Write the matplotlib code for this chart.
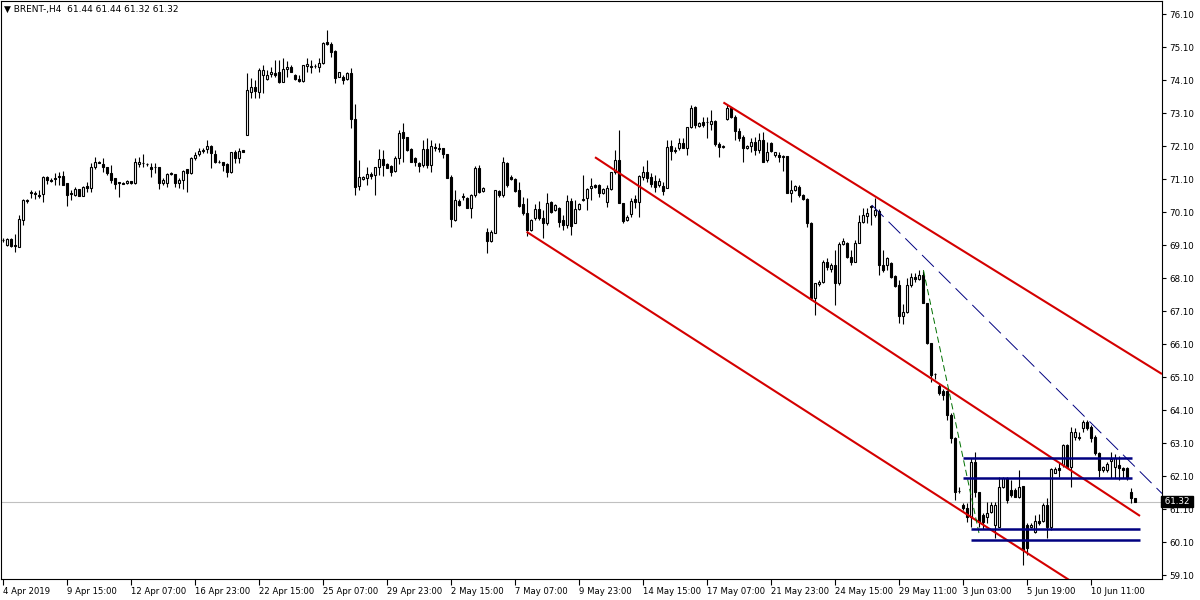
import numpy as np
import matplotlib
matplotlib.use("Agg")
import matplotlib.pyplot as plt

# BRENT H4 candles (one value per bar, 10 bars per row)
opens = [
    69.25, 69.10, 69.29, 69.10, 69.05, 69.86, 70.43, 70.71, 70.68, 70.62,
    70.64, 71.15, 71.07, 71.14, 71.20, 71.20, 70.97, 70.68, 70.61, 70.80,
    70.59, 70.89, 70.82, 71.47, 71.62, 71.55, 71.45, 71.27, 71.12, 71.00,
    70.98, 70.97, 71.05, 70.97, 71.55, 71.58, 71.55, 71.45, 71.46, 71.46,
    70.99, 70.99, 71.27, 71.24, 70.99, 71.07, 71.39, 71.29, 71.73, 71.87,
    71.96, 72.00, 72.10, 71.85, 71.63, 71.61, 71.54, 71.30, 71.93, 71.73,
    71.97, 72.43, 73.75, 73.89, 73.75, 74.25, 74.12, 74.28, 74.30, 74.33,
    74.03, 74.42, 74.48, 74.25, 74.13, 74.08, 74.53, 74.53, 74.53, 74.48,
    74.61, 75.24, 75.18, 74.98, 74.20, 74.20, 74.12, 74.30, 72.91, 70.90,
    71.10, 71.12, 71.25, 71.22, 71.47, 71.71, 71.54, 71.50, 71.34, 71.73,
    72.51, 72.36, 72.00, 71.75, 71.57, 71.52, 72.01, 71.52, 72.08, 72.05,
    72.03, 71.85, 71.17, 69.86, 70.43, 70.57, 70.51, 70.23, 70.61, 71.44,
    70.74, 69.50, 69.22, 69.45, 70.75, 70.61, 71.59, 71.17, 71.09, 70.77,
    70.34, 70.06, 69.55, 69.91, 70.18, 69.91, 69.76, 70.39, 70.16, 70.21,
    69.86, 69.71, 70.43, 69.76, 70.18, 70.45, 70.51, 70.82, 70.92, 70.92,
    70.67, 70.41, 70.80, 71.30, 71.68, 70.36, 69.86, 70.03, 70.49, 70.41,
    71.17, 71.32, 71.17, 71.04, 70.92, 70.90, 70.84, 72.11, 71.98, 72.03,
    72.18, 72.05, 72.67, 73.27, 72.72, 72.84, 72.84, 72.76, 72.86, 72.15,
    72.08, 72.92, 73.26, 72.99, 72.55, 72.38, 72.03, 72.11, 72.23, 71.98,
    72.28, 71.68, 72.18, 71.83, 71.83, 71.78, 71.80, 70.67, 70.77, 70.87,
    70.61, 70.48, 69.77, 67.48, 67.92, 67.99, 68.59, 68.36, 68.49, 67.96,
    69.13, 69.17, 68.75, 68.59, 69.15, 69.81, 69.98, 70.25, 70.01, 70.14,
    68.49, 68.49, 68.54, 68.16, 67.89, 66.95, 67.08, 67.89, 68.14, 68.06,
    68.19, 67.35, 66.12, 65.18, 64.83, 64.68, 64.68, 63.95, 63.24, 61.64,
    61.22, 61.12, 60.87, 62.53, 61.62, 60.92, 60.87, 61.02, 60.61, 60.56,
    61.77, 62.05, 61.68, 61.68, 61.47, 61.80, 60.61, 60.56, 60.41, 60.75,
    60.75, 61.22, 60.56, 62.20, 62.33, 62.43, 63.04, 62.38, 63.29, 63.29,
    63.55, 63.75, 63.59, 63.29, 62.79, 62.28, 62.28, 62.56, 62.38, 62.43,
    62.33, 62.33, 61.62, 61.44,
]
highs = [
    69.31, 69.31, 69.31, 69.43, 70.01, 70.49, 70.49, 70.77, 70.74, 70.77,
    71.19, 71.19, 71.13, 71.27, 71.32, 71.35, 70.98, 70.77, 70.85, 70.80,
    70.89, 71.02, 71.57, 71.76, 71.64, 71.73, 71.46, 71.52, 71.13, 71.02,
    71.02, 71.07, 71.05, 71.73, 71.77, 71.86, 71.59, 71.57, 71.57, 71.46,
    71.13, 71.28, 71.32, 71.25, 71.12, 71.37, 71.40, 71.77, 71.93, 72.05,
    72.05, 72.28, 72.13, 71.98, 71.68, 71.62, 71.57, 71.93, 71.98, 72.03,
    71.99, 74.30, 74.15, 74.10, 74.45, 74.55, 74.40, 74.50, 74.71, 74.71,
    74.76, 74.67, 74.55, 74.28, 74.25, 74.55, 74.76, 74.71, 74.60, 74.76,
    75.26, 75.62, 75.26, 75.01, 74.35, 74.25, 74.35, 74.45, 73.37, 71.68,
    71.20, 71.47, 71.31, 71.47, 72.01, 71.98, 71.58, 71.52, 71.81, 72.58,
    72.79, 72.38, 72.03, 71.78, 71.62, 72.28, 72.35, 72.28, 72.18, 72.18,
    72.05, 71.86, 71.22, 70.77, 70.49, 70.67, 70.56, 70.64, 71.50, 71.52,
    70.87, 69.61, 69.55, 70.77, 70.77, 71.77, 71.62, 71.22, 71.12, 71.02,
    70.56, 70.51, 69.89, 70.33, 70.43, 70.16, 70.67, 70.43, 70.34, 70.26,
    70.01, 70.61, 70.51, 70.46, 70.37, 71.22, 70.82, 71.12, 70.95, 70.95,
    70.82, 70.92, 71.32, 71.98, 72.58, 70.36, 70.01, 70.51, 70.61, 71.22,
    71.50, 71.68, 71.27, 71.22, 71.12, 71.00, 72.28, 72.28, 72.08, 72.33,
    72.33, 72.68, 73.34, 73.32, 72.82, 72.99, 72.99, 73.19, 72.89, 72.23,
    72.13, 73.34, 73.29, 73.04, 72.64, 72.43, 72.13, 72.35, 72.38, 72.48,
    72.53, 72.23, 72.21, 71.93, 71.91, 71.83, 71.80, 71.07, 70.92, 70.92,
    70.65, 70.51, 69.81, 67.94, 68.04, 68.64, 68.70, 68.54, 68.95, 69.20,
    69.30, 69.20, 68.95, 69.25, 70.01, 70.21, 70.21, 70.31, 70.51, 70.18,
    68.95, 68.75, 68.59, 68.19, 68.04, 67.30, 68.09, 68.24, 68.24, 68.34,
    68.32, 67.35, 66.12, 65.23, 64.89, 64.74, 64.71, 64.01, 63.28, 61.77,
    61.28, 61.27, 62.64, 62.84, 61.62, 60.97, 61.32, 61.32, 61.32, 62.08,
    62.08, 62.08, 61.98, 61.73, 62.29, 61.80, 60.67, 60.67, 60.92, 60.95,
    61.27, 61.42, 62.33, 62.38, 62.48, 63.07, 63.07, 63.58, 63.55, 63.44,
    63.80, 63.80, 63.64, 63.34, 62.84, 62.40, 62.53, 62.84, 62.77, 62.70,
    62.38, 62.38, 61.73, 61.44,
]
lows = [
    69.19, 69.07, 69.04, 68.90, 69.05, 69.71, 70.37, 70.52, 70.49, 70.52,
    70.41, 70.95, 71.01, 70.92, 70.92, 70.92, 70.28, 70.46, 70.59, 70.58,
    70.58, 70.71, 70.71, 71.39, 71.57, 71.32, 71.22, 70.97, 70.79, 70.56,
    70.94, 70.95, 70.95, 70.96, 71.47, 71.47, 71.49, 71.17, 71.27, 70.79,
    70.92, 70.87, 71.22, 70.87, 70.82, 70.79, 70.71, 71.24, 71.68, 71.80,
    71.88, 71.88, 71.44, 71.58, 71.59, 71.34, 71.17, 71.27, 71.58, 71.58,
    71.92, 72.43, 73.56, 73.55, 73.55, 73.70, 74.10, 74.20, 74.20, 74.00,
    74.03, 74.20, 74.33, 74.10, 74.03, 74.03, 74.35, 74.30, 74.45, 74.35,
    74.58, 75.16, 74.81, 74.00, 74.18, 73.97, 74.10, 72.64, 70.61, 70.77,
    71.07, 70.92, 71.11, 70.61, 71.22, 71.20, 71.42, 71.20, 71.30, 71.55,
    71.62, 71.95, 71.61, 71.50, 71.32, 71.47, 71.44, 71.30, 71.95, 71.93,
    71.73, 71.12, 69.65, 69.83, 70.29, 70.46, 70.21, 69.93, 70.56, 70.67,
    70.72, 68.85, 69.20, 69.45, 70.56, 70.56, 70.87, 71.07, 70.72, 70.26,
    70.01, 69.38, 69.52, 69.86, 69.86, 69.30, 69.71, 70.06, 70.13, 69.65,
    69.55, 69.61, 69.40, 69.76, 70.16, 70.43, 70.16, 70.46, 70.83, 70.56,
    70.64, 70.26, 70.77, 71.24, 70.36, 69.76, 69.83, 69.96, 70.23, 69.96,
    71.07, 71.02, 70.87, 70.71, 70.87, 70.61, 70.82, 71.68, 71.88, 71.98,
    72.03, 71.83, 72.64, 72.64, 72.68, 72.68, 72.33, 72.58, 72.11, 71.77,
    72.03, 72.89, 72.96, 72.28, 72.25, 71.62, 72.01, 71.93, 71.83, 71.88,
    71.62, 71.62, 71.93, 71.77, 71.62, 71.34, 70.67, 70.41, 70.74, 70.56,
    70.46, 69.65, 67.43, 66.98, 67.86, 67.94, 68.34, 68.29, 67.28, 67.89,
    69.10, 68.70, 68.49, 68.59, 69.15, 69.77, 69.76, 69.71, 69.96, 68.19,
    68.29, 68.34, 68.09, 67.84, 66.73, 66.70, 67.03, 67.84, 67.99, 68.04,
    67.33, 66.10, 64.96, 65.03, 64.55, 64.40, 63.80, 63.10, 61.37, 61.57,
    61.07, 60.71, 60.56, 61.47, 60.56, 60.48, 60.67, 60.97, 60.21, 60.56,
    61.73, 61.27, 61.47, 61.47, 61.42, 59.41, 59.71, 60.52, 60.36, 60.61,
    60.71, 60.21, 60.46, 62.18, 62.08, 62.38, 62.36, 61.77, 63.18, 63.18,
    63.44, 63.49, 63.13, 62.73, 62.08, 62.23, 62.23, 62.03, 62.03, 61.98,
    62.03, 61.98, 61.27, 61.32,
]
closes = [
    69.24, 69.29, 69.07, 69.07, 69.88, 70.46, 70.45, 70.69, 70.66, 70.60,
    71.15, 71.07, 71.05, 71.10, 71.15, 70.92, 70.61, 70.66, 70.80, 70.59,
    70.87, 70.82, 71.47, 71.61, 71.58, 71.45, 71.27, 71.07, 70.94, 70.98,
    70.96, 71.05, 70.98, 71.61, 71.61, 71.57, 71.54, 71.41, 71.45, 70.99,
    71.07, 71.25, 71.26, 70.99, 71.07, 71.35, 71.29, 71.73, 71.83, 71.95,
    71.98, 72.10, 71.88, 71.61, 71.62, 71.52, 71.30, 71.91, 71.73, 71.95,
    71.93, 73.80, 73.89, 73.77, 74.40, 74.40, 74.25, 74.33, 74.25, 74.03,
    74.43, 74.48, 74.35, 74.12, 74.08, 74.55, 74.58, 74.49, 74.53, 74.61,
    75.21, 75.19, 74.96, 74.17, 74.33, 74.10, 74.30, 72.91, 70.87, 71.15,
    71.17, 71.25, 71.20, 71.47, 71.71, 71.52, 71.44, 71.32, 71.75, 72.48,
    72.33, 71.98, 71.62, 71.62, 71.50, 72.01, 71.52, 72.10, 72.05, 72.01,
    71.85, 71.12, 69.89, 70.46, 70.31, 70.56, 70.23, 70.61, 71.44, 70.70,
    70.84, 69.22, 69.50, 70.77, 70.61, 71.61, 70.92, 71.10, 70.74, 70.29,
    70.06, 69.55, 69.86, 70.18, 69.91, 69.76, 70.36, 70.11, 70.31, 69.81,
    69.71, 70.43, 69.68, 70.19, 70.33, 70.48, 70.80, 70.90, 70.87, 70.67,
    70.80, 70.82, 71.30, 71.68, 70.36, 69.83, 69.96, 70.43, 70.41, 71.19,
    71.30, 71.14, 70.94, 70.87, 71.04, 70.74, 72.08, 71.95, 71.96, 72.18,
    72.05, 72.67, 73.24, 72.74, 72.79, 72.74, 72.83, 72.86, 72.15, 72.06,
    72.09, 73.24, 72.99, 72.55, 72.35, 72.05, 72.11, 72.23, 71.98, 72.28,
    71.62, 71.93, 71.95, 71.91, 71.77, 71.79, 70.67, 70.77, 70.89, 70.61,
    70.48, 69.76, 67.48, 67.94, 67.99, 68.59, 68.42, 68.49, 67.96, 69.13,
    69.23, 68.73, 68.59, 69.15, 69.81, 70.01, 70.06, 70.28, 70.16, 68.49,
    68.34, 68.70, 68.14, 67.86, 66.95, 67.08, 67.89, 68.14, 68.06, 68.19,
    67.35, 66.12, 65.16, 65.19, 64.61, 64.55, 63.95, 63.24, 61.62, 61.66,
    61.12, 60.87, 62.53, 61.62, 60.71, 60.71, 60.99, 61.22, 61.22, 61.77,
    62.05, 61.37, 61.52, 61.47, 61.77, 59.86, 59.91, 60.61, 60.75, 60.67,
    61.22, 60.56, 62.30, 62.30, 62.28, 63.04, 62.38, 63.44, 63.44, 63.24,
    63.75, 63.55, 63.24, 62.79, 62.28, 62.36, 62.46, 62.61, 62.64, 62.33,
    62.28, 62.03, 61.42, 61.32,
]

date_labels = ["4 Apr 2019", "9 Apr 15:00", "12 Apr 07:00", "16 Apr 23:00",
               "22 Apr 15:00", "25 Apr 07:00", "29 Apr 23:00", "2 May 15:00",
               "7 May 07:00", "9 May 23:00", "14 May 15:00", "17 May 07:00",
               "21 May 23:00", "24 May 15:00", "29 May 11:00", "3 Jun 03:00",
               "5 Jun 19:00", "10 Jun 11:00"]
bars_per_label = 16
price_ticks = [59.10, 60.10, 61.10, 62.10, 63.10, 64.10, 65.10, 66.10, 67.10,
               68.10, 69.10, 70.10, 71.10, 72.10, 73.10, 74.10, 75.10, 76.10]
last_price = 61.32

# drawn objects: (bar, price) anchors
red_channel = [(180.1, 73.42, 289.75, 65.19),
               (148.0, 71.76, 284.25, 60.89),
               (130.9, 69.50, 270.0, 58.68)]
blue_trend = (217.2, 70.31, 289.75, 61.57)
green_trend = (230.1, 68.34, 244.1, 60.31)
levels = [62.65, 62.05, 60.49, 60.16]
level_from = [240.0, 240.0, 242.1, 242.1]
level_to = [282.25, 282.25, 284.25, 284.25]

o = np.array(opens)
c = np.array(closes)
h = np.maximum(np.array(highs), np.maximum(o, c))
l = np.minimum(np.array(lows), np.minimum(o, c))
x = np.arange(len(o))

plt.rcParams['lines.scale_dashes'] = False
fig = plt.figure(figsize=(12, 6), dpi=100)
ax = fig.add_axes([1 / 1200, 21 / 600, 1161 / 1200, 578 / 600])
ax.set_xlim(-0.5, 289.75)
ax.set_ylim(58.979, 76.494)

ax.axhline(last_price, color='#c0c0c0', lw=0.8, zorder=1)

# candles
ax.vlines(x, l, h, color='black', lw=0.8, zorder=2)
up = c > o
dn = c < o
fl = c == o
ax.bar(x[up], (c - o)[up], bottom=o[up], width=0.5, facecolor='white',
       edgecolor='black', linewidth=0.8, zorder=3)
ax.bar(x[dn], (c - o)[dn], bottom=o[dn], width=0.5, facecolor='black',
       edgecolor='black', linewidth=0.8, zorder=3)
ax.hlines(o[fl], x[fl] - 0.35, x[fl] + 0.35, color='black', lw=0.8, zorder=3)

# objects
for x0, y0, x1, y1 in red_channel:
    ax.plot([x0, x1], [y0, y1], color='#d40000', lw=1.5, zorder=4,
            solid_capstyle='butt')
ax.plot(blue_trend[::2], blue_trend[1::2], color='#000080', lw=0.7,
        dashes=(12, 5), zorder=4)
ax.plot(green_trend[::2], green_trend[1::2], color='#007000', lw=0.7,
        dashes=(4.5, 2.5), zorder=4)
for lv, a, b in zip(levels, level_from, level_to):
    ax.plot([a, b], [lv, lv], color='#000080', lw=1.8, zorder=4,
            solid_capstyle='butt')

# axes
for s in ax.spines.values():
    s.set_color('black')
    s.set_linewidth(0.8)
ax.yaxis.tick_right()
ax.set_yticks(price_ticks)
ax.set_yticklabels(['%.2f' % p for p in price_ticks])
ax.tick_params(axis='y', direction='out', length=3, width=0.8, pad=2,
               labelsize=6.3, colors='black')
xt = np.arange(len(date_labels)) * bars_per_label
ax.set_xticks(xt)
ax.set_xticklabels(date_labels, ha='left')
ax.tick_params(axis='x', direction='out', length=4, width=0.8, pad=2,
               labelsize=6.1, colors='black')

ax.text(1.0, last_price, ' %.2f ' % last_price, transform=ax.get_yaxis_transform(),
        ha='left', va='center', color='white', fontsize=6.3, zorder=10,
        clip_on=False, bbox=dict(facecolor='black', edgecolor='black', pad=0.8))

fig.text(4 / 1200, 1 - 9 / 600, '\u25bc BRENT-,H4  61.44 61.44 61.32 61.32',
         fontsize=6.5, va='center', ha='left', color='black')

fig.savefig('out.png', dpi=100)
